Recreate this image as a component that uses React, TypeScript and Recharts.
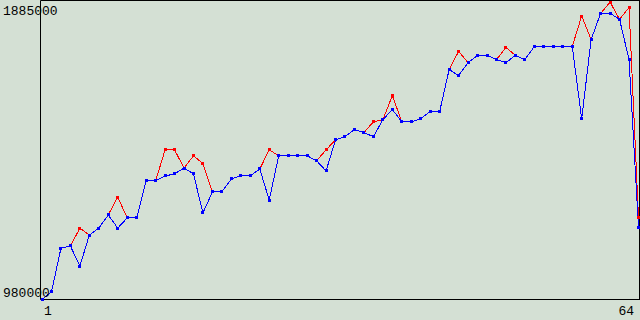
import { LineChart, Line, XAxis, YAxis, CartesianGrid } from "recharts";

const xs = Array.from({ length: 64 }, (_, i) => i + 1);

const blue = [
  980000, 1003000, 1135000, 1142000, 1081000, 1175000, 1196000, 1236000, 1196000, 1227000,
  1227000, 1339000, 1339000, 1354000, 1360000, 1378000, 1360000, 1242000, 1306000, 1306000,
  1345000, 1354000, 1354000, 1375000, 1281000, 1415000, 1415000, 1415000, 1415000, 1400000,
  1369000, 1463000, 1473000, 1494000, 1485000, 1473000, 1524000, 1555000, 1518000, 1518000,
  1527000, 1549000, 1549000, 1676000, 1658000, 1697000, 1719000, 1719000, 1706000, 1697000,
  1719000, 1706000, 1746000, 1746000, 1746000, 1746000, 1746000, 1527000, 1767000, 1846000,
  1846000, 1828000, 1706000, 1199000,
];

const red = [
  980000, 1003000, 1135000, 1142000, 1196000, 1175000, 1196000, 1236000, 1290000, 1227000,
  1227000, 1339000, 1339000, 1433000, 1433000, 1378000, 1415000, 1391000, 1306000, 1306000,
  1345000, 1354000, 1354000, 1375000, 1433000, 1415000, 1415000, 1415000, 1415000, 1400000,
  1433000, 1463000, 1473000, 1494000, 1485000, 1518000, 1524000, 1597000, 1518000, 1518000,
  1527000, 1549000, 1549000, 1676000, 1731000, 1697000, 1719000, 1719000, 1706000, 1743000,
  1719000, 1706000, 1746000, 1746000, 1746000, 1746000, 1746000, 1838000, 1767000, 1846000,
  1880000, 1828000, 1864000, 1228000,
];

const yTicks = [980000, 1885000];
const xTicks = [1, 64];

const data = xs.map((x, i) => ({ x, red: red[i], blue: blue[i] }));

const FONT = "Liberation Mono";
const BG = "#d4e0d4";

function squareDot(color: string) {
  return (p: any) => (
    <rect
      key={p.key ?? `${color}-${p.index}`}
      x={Math.round(p.cx - 1.5)}
      y={Math.round(p.cy - 1.5)}
      width={3}
      height={3}
      fill={color}
      shapeRendering="crispEdges"
    />
  );
}

// recharts nudges the top tick down ~8px, bottom one sits at the axis
function YTick(p: any) {
  const top = p.payload.value === yTicks[1];
  return (
    <text x={3} y={top ? p.y + 6 : p.y - 3} fontFamily={FONT} fontSize={13} fill="#000" textAnchor="start">
      {p.payload.value}
    </text>
  );
}

function XTick(p: any) {
  const first = p.payload.value === xTicks[0];
  return (
    <text x={p.x + 2} y={p.y + 7} fontFamily={FONT} fontSize={13} fill="#000" textAnchor={first ? "start" : "end"}>
      {p.payload.value}
    </text>
  );
}

export default function App() {
  return (
    <div style={{ width: 640, height: 320, background: BG }}>
      <style>{`body{margin:0} .recharts-line-curve{shape-rendering:crispEdges}`}</style>
      <LineChart width={640} height={320} data={data} margin={{ top: 0.5, right: 0, bottom: 0, left: 0 }}>
        {/* plot frame */}
        <CartesianGrid verticalPoints={[40.5, 639.5]} horizontalPoints={[0.5, 299.5]} stroke="#000" />
        <XAxis
          dataKey="x"
          type="number"
          domain={[1, 64]}
          ticks={xTicks}
          padding={{ left: 1.5, right: 1.5 }}
          height={20.5}
          tickLine={false}
          axisLine={false}
          tick={<XTick />}
        />
        <YAxis
          domain={[980000, 1885000]}
          ticks={yTicks}
          width={40.5}
          tickLine={false}
          axisLine={false}
          tick={<YTick />}
        />
        <Line dataKey="red" stroke="#ff0000" strokeWidth={1} dot={squareDot("#ff0000")} activeDot={false} isAnimationActive={false} />
        <Line dataKey="blue" stroke="#0000ff" strokeWidth={1} dot={squareDot("#0000ff")} activeDot={false} isAnimationActive={false} />
      </LineChart>
    </div>
  );
}
